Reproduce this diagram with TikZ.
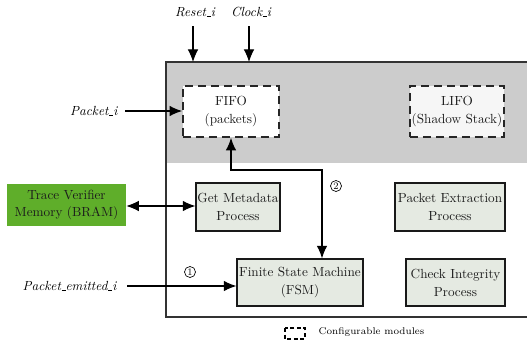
\documentclass[tikz,border=0pt]{standalone}
\usetikzlibrary{arrows.meta,calc}
\definecolor{zonegray}{HTML}{CCCCCC}
\definecolor{modfill}{HTML}{E5EAE2}
\definecolor{memgreen}{HTML}{5FAE2A}
\definecolor{lifofill}{HTML}{F6F6F6}
\definecolor{inktext}{HTML}{1C1C1C}
\def\u{0.757pt}
% short low bar used in signal names
\newcommand\lowbar{\leavevmode\kern.06em\vbox{\hrule width.3em}}
\tikzset{
  module/.style={draw=black!90, line width=1pt, fill=modfill, text=inktext,
    align=center, inner sep=0pt, font=\fontsize{10}{13.5}\selectfont},
  confmod/.style={draw=black!85, line width=1.4pt, dash pattern=on 6pt off 3.8pt,
    text=inktext, align=center, inner sep=0pt, font=\fontsize{10}{13.5}\selectfont},
  memory/.style={fill=memgreen, text=inktext, align=center, inner sep=0pt,
    font=\fontsize{10}{13.5}\selectfont},
  sig/.style={font=\itshape\fontsize{10}{12}\selectfont},
  arr/.style={line width=0.8pt, -{Latex[length=9.5pt,width=8pt]}},
  darr/.style={line width=0.8pt, {Latex[length=9.5pt,width=8pt]}-{Latex[length=9.5pt,width=8pt]}},
  stepnum/.style={circle, draw, line width=0.5pt, inner sep=0.7pt, font=\fontsize{7.5}{8}\selectfont}
}
\begin{document}
\begin{tikzpicture}[x=\u,y=-\u]
\useasboundingbox (0,0) rectangle (527,340);

% outer accelerator block with its shaded top band
\fill[zonegray] (166,62) rectangle (560,163);
\draw[line width=0.9pt, draw=black!80] (166,62) rectangle (560,317);

% configurable buffers
\node[confmod, fill=white, minimum width=96*\u, minimum height=51*\u] (fifo) at (231,111.5) {FIFO\\(packets)};
\node[confmod, fill=lifofill, minimum width=94*\u, minimum height=51*\u] (lifo) at (457,111.5) {LIFO\\(Shadow Stack)};

% processing modules
\node[module, minimum width=84*\u, minimum height=48*\u] (meta) at (238,207) {Get Metadata\\Process};
\node[module, minimum width=110*\u, minimum height=48*\u] (pext) at (450,207) {Packet Extraction\\Process};
\node[module, minimum width=126*\u, minimum height=47*\u] (fsm) at (300,282.5) {Finite State Machine\\(FSM)};
\node[module, minimum width=99*\u, minimum height=47*\u] (chk) at (455.5,282.5) {Check Integrity\\Process};

% external memory
\node[memory, minimum width=119*\u, minimum height=42*\u] (bram) at (66.5,205) {Trace Verifier\\Memory (BRAM)};

% input signals
\node[sig] (reset) at (195,12) {Reset\lowbar i};
\node[sig] (clock) at (251,12) {Clock\lowbar i};
\node[sig, anchor=east] (pkt) at (122,111) {Packet\lowbar i};
\node[sig, anchor=east] (pemit) at (121,286) {Packet\lowbar emitted\lowbar i};

\coordinate (rtop) at (193,26);
\coordinate (rin) at (193,62);
\coordinate (ctop) at (249,26);
\coordinate (cin) at (249,62);
\draw[arr] (rtop) -- (rin);
\draw[arr] (ctop) -- (cin);
\draw[arr] ([xshift=3*\u]pkt.east) -- (pkt.east -| fifo.west);
\draw[arr] ([xshift=6*\u]pemit.east) -- (pemit.east -| fsm.west);

% memory access
\draw[darr] (bram.east |- 0,206) -- (meta.west |- 0,206);

% FIFO <-> FSM path
\coordinate (bend) at (322,170);
\draw[darr] (fifo.south) |- (bend) -- (bend |- fsm.north);

% step markers
\node[stepnum] (s1) at (190,272) {1};
\node[stepnum] (s2) at (336,186) {2};

% legend
\draw[line width=0.9pt, dash pattern=on 3pt off 2pt] (285,328) rectangle (305,339);
\node[anchor=west, font=\fontsize{7.4}{9}\selectfont] (leg) at (314,332.5) {Configurable modules};
\end{tikzpicture}
\end{document}
